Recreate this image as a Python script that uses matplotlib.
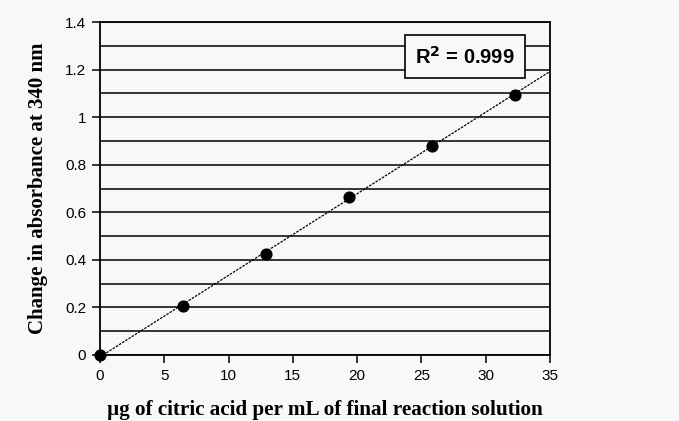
import matplotlib.pyplot as plt
import numpy as np

plt.rcParams["font.family"] = "Liberation Serif"

BG = "#f8f8f8"
INK = "#000000"

conc = [0, 6.45, 12.9, 19.35, 25.8, 32.25]
absorb = [0.0, 0.205, 0.425, 0.665, 0.88, 1.095]
x_ticks = [0, 5, 10, 15, 20, 25, 30, 35]
y_ticks = [0, 0.2, 0.4, 0.6, 0.8, 1, 1.2, 1.4]
y_labels = ["0", "0.2", "0.4", "0.6", "0.8", "1", "1.2", "1.4"]

fig = plt.figure(figsize=(6.79, 4.21), dpi=100, facecolor=BG)
ax = fig.add_axes([0.1473, 0.1568, 0.6627, 0.7909], facecolor=BG)

# trend line through the points
slope, icpt = np.polyfit(conc, absorb, 1)
xs = np.array([0, 35])
ax.plot(xs, slope * xs + icpt, color=INK, lw=0.9, ls=(0, (2, 1)), zorder=2)
ax.scatter(conc, absorb, s=60, color=INK, zorder=3, clip_on=False)

ax.set_xlim(0, 35)
ax.set_ylim(0, 1.4)
ax.set_xticks(x_ticks)
ax.set_yticks(y_ticks)
ax.set_yticklabels(y_labels)
ax.set_yticks(np.arange(0.1, 1.4, 0.2), minor=True)
ax.grid(axis="y", which="both", color=INK, lw=1.1)
ax.set_axisbelow(True)
ax.tick_params(axis="both", which="major", direction="out", length=6, width=1.1,
               labelsize=11, pad=4)
ax.tick_params(axis="y", which="minor", length=0)
for lab in ax.get_xticklabels() + ax.get_yticklabels():
    lab.set_family("Liberation Sans")
for s in ax.spines.values():
    s.set_linewidth(1.3)

ax.set_xlabel("\u00b5g of citric acid per mL of final reaction solution",
              fontsize=15.2, fontweight="bold", labelpad=12)
ax.set_ylabel("Change in absorbance at 340 nm", fontsize=15,
              fontweight="bold", labelpad=12)

ax.text(28.4, 1.255, "R$^{\\mathbf{2}}$ = 0.999", fontsize=14.5, fontweight="bold",
        family="Liberation Sans", ha="center", va="center", zorder=4,
        bbox=dict(boxstyle="square,pad=0.5", fc=BG, ec=INK, lw=1.2))

fig.savefig("out.png", dpi=100, facecolor=BG)
